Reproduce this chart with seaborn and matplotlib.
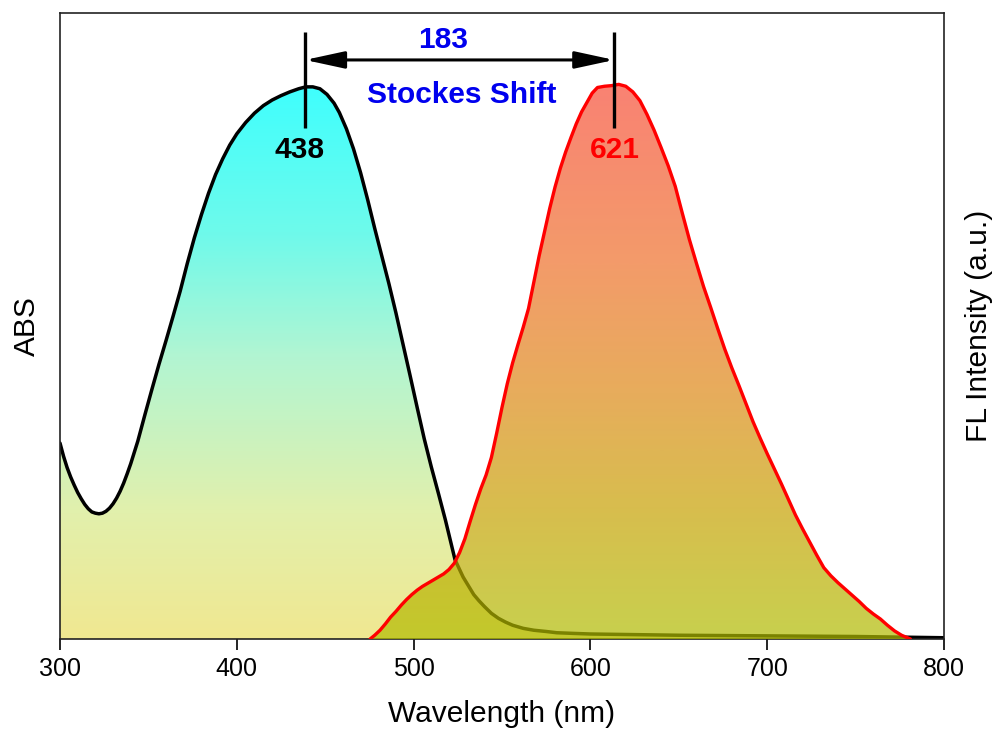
import numpy as np
import pandas as pd
import matplotlib
matplotlib.use("Agg")
import matplotlib.pyplot as plt
import seaborn as sns
from matplotlib.colors import LinearSegmentedColormap
from matplotlib.patches import PathPatch

# ---------------- data ----------------
abs_wl = [300, 302, 304, 306, 308, 310, 312, 314, 316, 318, 320, 322, 324, 326,
          328, 330, 332, 334, 336, 338, 340, 342, 344, 348, 352, 356, 360, 364,
          368, 372, 376, 380, 384, 388, 392, 396, 400, 405, 410, 415, 420, 425,
          430, 435, 439, 443, 447, 451, 455, 458, 462, 466, 470, 474, 478, 482,
          486, 490, 494, 498, 502, 506, 510, 514, 518, 521, 523.4, 526, 528, 531,
          534, 537, 540, 544, 548, 552, 556, 562, 568, 575, 581, 590, 600, 650,
          700, 750, 800]
abs_val = [0.313, 0.292, 0.274, 0.259, 0.246, 0.234, 0.224, 0.215, 0.208, 0.203,
           0.201, 0.200, 0.201, 0.204, 0.209, 0.216, 0.225, 0.236, 0.249, 0.264,
           0.280, 0.298, 0.316, 0.358, 0.399, 0.439, 0.477, 0.516, 0.556, 0.600,
           0.641, 0.678, 0.712, 0.742, 0.767, 0.789, 0.807, 0.825, 0.840, 0.852,
           0.861, 0.868, 0.874, 0.879, 0.882, 0.882, 0.879, 0.870, 0.856, 0.841,
           0.815, 0.783, 0.745, 0.702, 0.656, 0.612, 0.568, 0.521, 0.471, 0.421,
           0.370, 0.320, 0.275, 0.233, 0.190, 0.155, 0.127, 0.111, 0.099, 0.085,
           0.071, 0.061, 0.052, 0.041, 0.033, 0.027, 0.022, 0.017, 0.014, 0.012,
           0.010, 0.009, 0.008, 0.006, 0.005, 0.004, 0.002]

fl_wl = [475.4, 478, 481, 484, 487, 490, 493, 496, 499, 502, 505, 508, 511, 514,
         517, 520, 523, 526, 529, 532, 535, 538, 541, 544, 547, 550, 553, 556,
         559, 562, 565, 568, 571, 574, 577, 580, 583, 586, 589, 592, 595, 598,
         601, 604, 608, 612, 616, 620, 624, 628, 632, 636, 640, 644, 648, 652,
         656, 660, 664, 668, 672, 676, 680, 684, 688, 692, 696, 700, 704, 708,
         712, 716, 720, 724, 728, 732, 736, 740, 744, 748, 752, 756, 760, 764,
         768, 772, 776, 781]
fl_val = [0.000, 0.006, 0.014, 0.024, 0.035, 0.044, 0.054, 0.063, 0.071, 0.078,
          0.084, 0.089, 0.094, 0.099, 0.104, 0.111, 0.121, 0.138, 0.160, 0.188,
          0.215, 0.240, 0.262, 0.290, 0.329, 0.370, 0.408, 0.441, 0.470, 0.498,
          0.528, 0.570, 0.612, 0.650, 0.688, 0.722, 0.752, 0.778, 0.801, 0.823,
          0.842, 0.857, 0.872, 0.881, 0.883, 0.884, 0.886, 0.883, 0.874, 0.860,
          0.838, 0.813, 0.785, 0.756, 0.723, 0.680, 0.638, 0.600, 0.563, 0.530,
          0.496, 0.463, 0.433, 0.405, 0.376, 0.347, 0.321, 0.296, 0.272, 0.248,
          0.223, 0.198, 0.176, 0.155, 0.134, 0.114, 0.101, 0.090, 0.080, 0.070,
          0.060, 0.049, 0.040, 0.032, 0.022, 0.013, 0.006, 0.000]

abs_peak = 438.6      # marker position for the absorption maximum
fl_peak = 613.5       # marker position for the emission maximum
abs_label = "438"
fl_label = "621"
shift_label = "183"
shift_text = "Stockes Shift"
xticks = [300, 400, 500, 600, 700, 800]

abs_df = pd.DataFrame({"wl": abs_wl, "val": abs_val})
fl_df = pd.DataFrame({"wl": fl_wl, "val": fl_val})

# ---------------- style ----------------
sns.set_theme(style="white")
plt.rcParams["font.family"] = ["Liberation Sans", "DejaVu Sans"]

fig = plt.figure(figsize=(10.02, 7.36), dpi=100)
ax = fig.add_axes([60 / 1002, (736 - 639) / 736, 884 / 1002, 626 / 736])

# gradient colormaps (value -> colour)
abs_cmap = LinearSegmentedColormap.from_list("absg", [
    (0.0, (240/255, 232/255, 145/255)),
    (0.2/0.9, (226/255, 240/255, 172/255)),
    (0.45/0.9, (178/255, 245/255, 210/255)),
    (0.65/0.9, (110/255, 250/255, 235/255)),
    (1.0, (60/255, 255/255, 255/255)),
])
fl_cmap = LinearSegmentedColormap.from_list("flg", [
    (0.0, (176/255, 188/255, 0/255)),
    (0.2/0.9, (198/255, 162/255, 0/255)),
    (0.4/0.9, (222/255, 136/255, 22/255)),
    (0.6/0.9, (238/255, 112/255, 41/255)),
    (1.0, (248/255, 74/255, 55/255)),
])

grad = np.linspace(0, 0.9, 400).reshape(-1, 1)


def gradient_fill(x, y, cmap, alpha, z):
    poly = ax.fill_between(x, y, 0, facecolor="none", edgecolor="none")
    path = poly.get_paths()[0]
    patch = PathPatch(path, transform=ax.transData, facecolor="none", edgecolor="none")
    ax.add_patch(patch)
    im = ax.imshow(grad, extent=[300, 800, 0, 0.9], origin="lower", aspect="auto",
                   cmap=cmap, vmin=0, vmax=0.9, alpha=alpha, zorder=z,
                   interpolation="bilinear")
    im.set_clip_path(patch)


gradient_fill(abs_df["wl"], abs_df["val"], abs_cmap, 1.0, 1)
sns.lineplot(data=abs_df, x="wl", y="val", ax=ax, color="black", lw=2.5,
             zorder=2, sort=False)
gradient_fill(fl_df["wl"], fl_df["val"], fl_cmap, 0.70, 3)
sns.lineplot(data=fl_df, x="wl", y="val", ax=ax, color="#ff0000", lw=2.4,
             zorder=4, sort=False)

# ---------------- annotations ----------------
for xp in (abs_peak, fl_peak):
    ax.plot([xp, xp], [0.816, 0.970], color="black", lw=2.4, zorder=6,
            solid_capstyle="butt")
ax.annotate("", xy=(abs_peak, 0.925), xytext=(fl_peak, 0.925),
            arrowprops=dict(arrowstyle="<|-|>,head_length=1.2,head_width=0.26",
                            color="black", lw=2.2, shrinkA=0, shrinkB=0,
                            mutation_scale=20), zorder=6)
bold = dict(fontsize=21.5, fontweight="bold", ha="center", va="center", zorder=7)
ax.text(516.6, 0.957, shift_label, color="#0000ee", **bold)
ax.text(527.0, 0.869, shift_text, color="#0000ee", **bold)
ax.text(435.7, 0.781, abs_label, color="black", **bold)
ax.text(613.9, 0.781, fl_label, color="#ff0000", **bold)

# ---------------- axes ----------------
ax.set_xlim(300, 800)
ax.set_ylim(0, 1.0)
ax.set_xticks(xticks)
ax.set_xticklabels([str(t) for t in xticks])
ax.set_yticks([])
ax.tick_params(axis="x", which="major", bottom=True, direction="out", length=8,
               width=1.2, color="black", labelsize=18, pad=5, labelcolor="black")
for s in ax.spines.values():
    s.set_visible(True)
    s.set_linewidth(1.2)
    s.set_color("#222222")

ax.set_xlabel("Wavelength (nm)", fontsize=21.5, color="black")
ax.xaxis.set_label_coords(0.5, -0.097)
ax.set_ylabel("ABS", fontsize=21.5, color="black")
ax.yaxis.set_label_coords(-0.021, 0.5)

ax2 = ax.twinx()
ax2.set_ylim(0, 1.0)
ax2.set_yticks([])
ax2.set_ylabel("FL Intensity (a.u.)", fontsize=21.5, color="black")
ax2.yaxis.set_label_coords(1.0238, 0.5)
for s in ax2.spines.values():
    s.set_visible(False)

fig.savefig("out.png", dpi=100, facecolor="white")
